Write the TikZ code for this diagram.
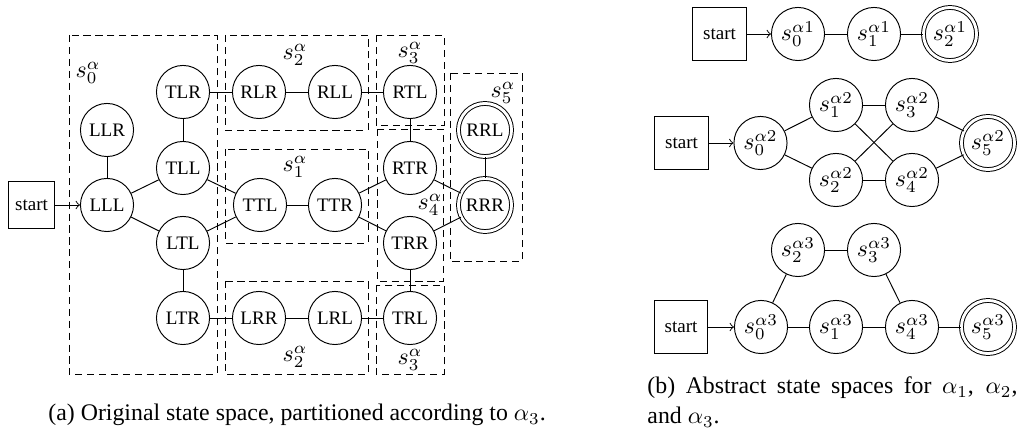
\documentclass[tikz,border=0pt]{standalone}
\usepackage{fontspec}
\setmainfont{Liberation Serif}
\begin{document}
\begin{tikzpicture}[x=0.42pt,y=-0.42pt,
  st/.style={circle,draw,minimum size=22.3pt,inner sep=0pt,font=\footnotesize},
  mst/.style={st,font=\normalsize},
  acc/.style={st,double,double distance=1.2pt},
  macc/.style={acc,font=\normalsize},
  startbox/.style={rectangle,draw,font=\footnotesize,inner sep=0pt,minimum size=19.7pt},
  startbig/.style={startbox,minimum size=22.3pt},
  part/.style={draw,dash pattern=on 3pt off 2pt},
  plabel/.style={font=\normalsize,inner sep=0pt},
  captext/.style={font=\normalsize,inner sep=0pt,anchor=base west}]
\useasboundingbox (0,0) rectangle (1020,431);

% ---------- partition boxes ----------
\draw[part] (69,35) rectangle (217,374);
\draw[part] (225,35) rectangle (368,130);
\draw[part] (376,35) rectangle (444,125);
\draw[part] (225,149) rectangle (368,243);
\draw[part] (377,129) rectangle (443,281);
\draw[part] (225,281) rectangle (368,374);
\draw[part] (376,285) rectangle (444,374);
\draw[part] (450,73) rectangle (522,261);

\node[plabel] (p0) at (88,73) {$s_0^\alpha$};
\node[plabel] (p2a) at (295,55) {$s_2^\alpha$};
\node[plabel] (p3a) at (410,53) {$s_3^\alpha$};
\node[plabel] (p1) at (295,167) {$s_1^\alpha$};
\node[plabel] (p4) at (430,205) {$s_4^\alpha$};
\node[plabel] (p2b) at (295,357) {$s_2^\alpha$};
\node[plabel] (p3b) at (410,360) {$s_3^\alpha$};
\node[plabel] (p5) at (503,93) {$s_5^\alpha$};

% ---------- original state space ----------
\node[startbox] (start0) at (31.5,205) {start};
\node[st] (LLL) at (107,205) {LLL};
\node[st] (LLR) at (107,130) {LLR};
\node[st] (TLR) at (183,92) {TLR};
\node[st] (TLL) at (183,168) {TLL};
\node[st] (LTL) at (183,243) {LTL};
\node[st] (LTR) at (183,318) {LTR};
\node[st] (RLR) at (259,92) {RLR};
\node[st] (RLL) at (335,92) {RLL};
\node[st] (RTL) at (410,92) {RTL};
\node[st] (TTL) at (260,205) {TTL};
\node[st] (TTR) at (335,205) {TTR};
\node[st] (RTR) at (410,168) {RTR};
\node[st] (TRR) at (410,243) {TRR};
\node[st] (LRR) at (259,318) {LRR};
\node[st] (LRL) at (335,318) {LRL};
\node[st] (TRL) at (410,318) {TRL};
\node[acc] (RRL) at (485,130) {RRL};
\node[acc] (RRR) at (485,205) {RRR};

\draw[->] (start0) -- (LLL);
\draw (LLL) -- (LLR);
\draw (LLL) -- (TLL);
\draw (LLL) -- (LTL);
\draw (TLL) -- (TLR);
\draw (TLL) -- (TTL);
\draw (LTL) -- (TTL);
\draw (LTL) -- (LTR);
\draw (TLR) -- (RLR);
\draw (RLR) -- (RLL);
\draw (RLL) -- (RTL);
\draw (RTL) -- (RTR);
\draw (TTL) -- (TTR);
\draw (TTR) -- (RTR);
\draw (TTR) -- (TRR);
\draw (RTR) -- (RRR);
\draw (TRR) -- (RRR);
\draw (RRL) -- (RRR);
\draw (TRR) -- (TRL);
\draw (LTR) -- (LRR);
\draw (LRR) -- (LRL);
\draw (LRL) -- (TRL);

% ---------- abstract state space alpha1 ----------
\node[startbig] (start1) at (719.5,34) {start};
\node[mst] (a1s0) at (798,34) {$s_0^{\alpha 1}$};
\node[mst] (a1s1) at (874,34) {$s_1^{\alpha 1}$};
\node[macc] (a1s2) at (950,34) {$s_2^{\alpha 1}$};
\draw[->] (start1) -- (a1s0);
\draw (a1s0) -- (a1s1);
\draw (a1s1) -- (a1s2);

% ---------- abstract state space alpha2 ----------
\node[startbig] (start2) at (681.5,143) {start};
\node[mst] (a2s0) at (760.5,143) {$s_0^{\alpha 2}$};
\node[mst] (a2s1) at (836,105) {$s_1^{\alpha 2}$};
\node[mst] (a2s3) at (912,105) {$s_3^{\alpha 2}$};
\node[mst] (a2s2) at (836,180) {$s_2^{\alpha 2}$};
\node[mst] (a2s4) at (912,180) {$s_4^{\alpha 2}$};
\node[macc] (a2s5) at (988,143) {$s_5^{\alpha 2}$};
\draw[->] (start2) -- (a2s0);
\draw (a2s0) -- (a2s1);
\draw (a2s0) -- (a2s2);
\draw (a2s1) -- (a2s3);
\draw (a2s1) -- (a2s4);
\draw (a2s2) -- (a2s3);
\draw (a2s2) -- (a2s4);
\draw (a2s3) -- (a2s5);
\draw (a2s4) -- (a2s5);

% ---------- abstract state space alpha3 ----------
\node[startbig] (start3) at (681,327) {start};
\node[mst] (a3s0) at (761,327) {$s_0^{\alpha 3}$};
\node[mst] (a3s2) at (798,250) {$s_2^{\alpha 3}$};
\node[mst] (a3s3) at (874,250) {$s_3^{\alpha 3}$};
\node[mst] (a3s1) at (836,327) {$s_1^{\alpha 3}$};
\node[mst] (a3s4) at (912,327) {$s_4^{\alpha 3}$};
\node[macc] (a3s5) at (988,327) {$s_5^{\alpha 3}$};
\draw[->] (start3) -- (a3s0);
\draw (a3s0) -- (a3s2);
\draw (a3s2) -- (a3s3);
\draw (a3s3) -- (a3s4);
\draw (a3s0) -- (a3s1);
\draw (a3s1) -- (a3s4);
\draw (a3s4) -- (a3s5);

% ---------- captions ----------
\node[captext] (capa) at (48,421) {(a) Original state space, partitioned according to $\alpha_3$.};
\node[captext] (capb1) at (647,394) {\makebox[155.4pt][s]{(b) Abstract state spaces for $\alpha_1$, $\alpha_2$,}};
\node[captext] (capb2) at (647,424) {and $\alpha_3$.};
\end{tikzpicture}
\end{document}
